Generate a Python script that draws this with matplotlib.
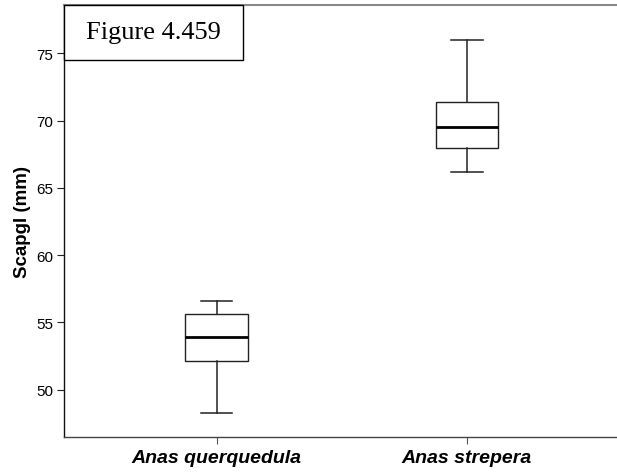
import matplotlib
matplotlib.use("Agg")
import matplotlib.pyplot as plt
from matplotlib.patches import Rectangle

# box summaries (mm)
species = ["Anas querquedula", "Anas strepera"]
whis_lo = [48.3, 66.2]
q1 = [52.1, 68.0]
median = [53.95, 69.5]
q3 = [55.6, 71.4]
whis_hi = [56.6, 76.0]

stats = []
for i in range(len(species)):
    stats.append({"label": species[i], "whislo": whis_lo[i], "q1": q1[i],
                  "med": median[i], "q3": q3[i], "whishi": whis_hi[i],
                  "fliers": []})

fig = plt.figure(figsize=(6.17, 4.77), dpi=100)
ax = fig.add_axes([0.103, 0.0818, 0.897, 0.9056])

ax.bxp(stats, positions=[1, 2], widths=0.25, capwidths=0.126,
       showfliers=False, patch_artist=True,
       boxprops=dict(facecolor="white", edgecolor="#222222", linewidth=1.0),
       whiskerprops=dict(color="#222222", linewidth=1.1),
       capprops=dict(color="#222222", linewidth=1.1),
       medianprops=dict(color="black", linewidth=2.0))

ax.set_xlim(0.388, 2.6)
ax.set_ylim(46.49, 78.59)
ax.set_yticks([50, 55, 60, 65, 70, 75])
ax.set_xticks([1, 2])
ax.set_xticklabels(species, fontfamily="Liberation Sans", fontsize=14,
                   fontweight="bold", fontstyle="italic")
for lab in ax.get_yticklabels():
    lab.set_fontfamily("Liberation Sans")
    lab.set_fontsize(11)
ax.tick_params(axis="y", length=4.7, width=0.8, colors="#222222",
               labelcolor="black", pad=2.5)
ax.tick_params(axis="x", length=5, width=0.8, colors="#555555",
               labelcolor="black", pad=4)

ax.set_ylabel("Scapgl (mm)", fontfamily="Liberation Sans", fontsize=13.5,
              fontweight="bold", labelpad=4)

ax.spines["right"].set_visible(False)
ax.spines["top"].set_color("#888888")
ax.spines["top"].set_linewidth(1.5)
ax.spines["bottom"].set_color("#444444")
ax.spines["bottom"].set_linewidth(1.0)
ax.spines["left"].set_color("#111111")
ax.spines["left"].set_linewidth(1.0)

# caption box in the top-left corner
box = Rectangle((63.5 / 617, 1 - 60.5 / 477), (243 - 63.5) / 617, 54.5 / 477,
                transform=fig.transFigure, facecolor="white",
                edgecolor="black", linewidth=1.0, zorder=5)
fig.patches.append(box)
fig.text(153 / 617, 1 - 33 / 477, "Figure 4.459", fontfamily="Liberation Serif",
         fontsize=19, ha="center", va="center", zorder=6)

fig.savefig("out.png", dpi=100)
